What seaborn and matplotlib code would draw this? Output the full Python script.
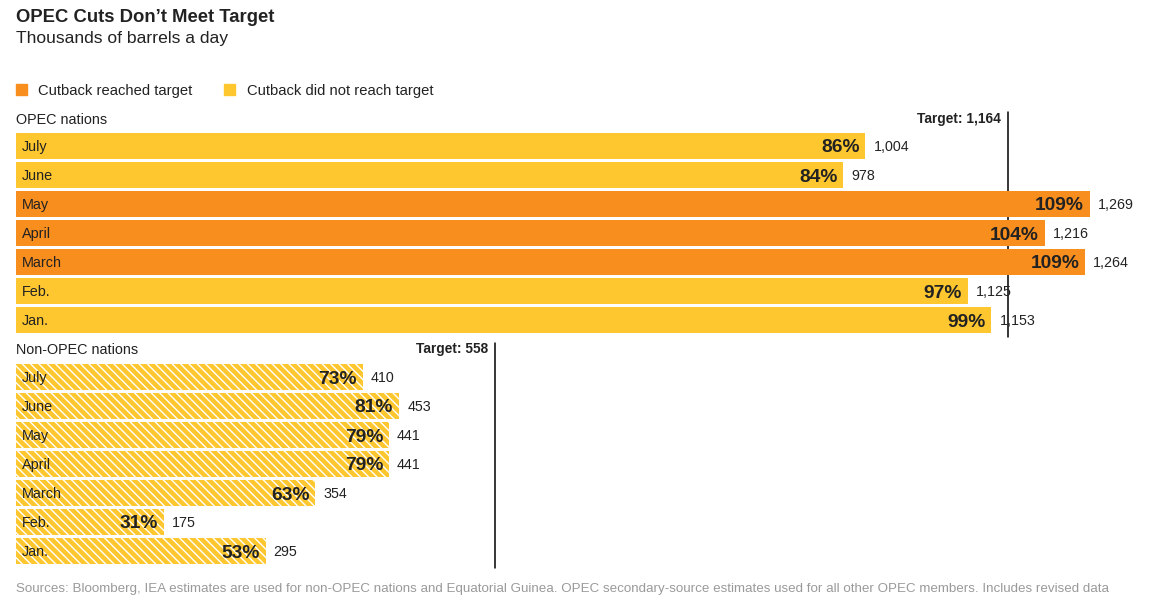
import matplotlib
matplotlib.use("Agg")
import matplotlib.pyplot as plt
import matplotlib.transforms as mtransforms
import seaborn as sns
import pandas as pd
from matplotlib.patches import Rectangle

months = ["July", "June", "May", "April", "March", "Feb.", "Jan."]
opec_values = [1004, 978, 1269, 1216, 1264, 1125, 1153]
opec_pct = [86, 84, 109, 104, 109, 97, 99]
opec_target = 1164
non_values = [410, 453, 441, 441, 354, 175, 295]
non_pct = [73, 81, 79, 79, 63, 31, 53]
non_target = 558
status_labels = ["Cutback reached target", "Cutback did not reach target"]
colors = {"Cutback reached target": "#F78E1E", "Cutback did not reach target": "#FEC72F"}

sns.set_theme(style="white")
plt.rcParams["font.family"] = ["Liberation Sans", "DejaVu Sans"]
plt.rcParams["hatch.linewidth"] = 1.0

W, H = 1151, 605
fig = plt.figure(figsize=(W / 100, H / 100), dpi=100)
TXT = "#222222"

def ax_rect(top_px, height_px, left_px=16, right_px=1151):
    return [left_px / W, 1 - (top_px + height_px) / H, (right_px - left_px) / W, height_px / H]

XMAX = (1151 - 16) / 0.846
ax1 = fig.add_axes(ax_rect(131.5, 203))
ax2 = fig.add_axes(ax_rect(362.5, 203))

def draw(ax, values, pcts, target, hatch, label):
    df = pd.DataFrame({
        "month": months,
        "value": values,
        "status": [status_labels[0] if p >= 100 else status_labels[1] for p in pcts],
    })
    sns.barplot(data=df, x="value", y="month", hue="status", palette=colors,
                dodge=False, orient="h", width=0.93, ax=ax, legend=False,
                saturation=1, linewidth=0, zorder=2)
    for p in ax.patches:
        if hatch:
            p.set_hatch("\\" * 4)
            p.set_edgecolor("white")
            p.set_linewidth(0)
    ax.set_xlim(0, XMAX)
    ax.set_ylim(6.5, -0.5)
    ax.set_axis_off()
    shift = mtransforms.ScaledTranslation(7 / 100, 0, fig.dpi_scale_trans)
    line = ax.axvline(target, ymin=-0.01, ymax=1.096, color="black", lw=1.1,
                      zorder=0, clip_on=False)
    line.set_transform(line.get_transform() + shift)
    for i, (m, v, pc) in enumerate(zip(months, values, pcts)):
        ax.annotate(m, xy=(0, i), xytext=(6, -1), textcoords="offset pixels",
                    ha="left", va="center", fontsize=10.4, color=TXT, zorder=5)
        ax.annotate(f"{pc}%", xy=(v, i), xytext=(-6, -2), textcoords="offset pixels",
                    ha="right", va="center", fontsize=13.8, fontweight="bold",
                    color=TXT, zorder=5)
        ax.annotate(f"{v:,}", xy=(v, i), xytext=(8, -1), textcoords="offset pixels",
                    ha="left", va="center", fontsize=10.3, color=TXT, zorder=5)
    ax.annotate(f"Target: {target:,}", xy=(target, -0.5), xytext=(0, 13),
                textcoords="offset pixels", ha="right", va="center",
                fontsize=9.9, fontweight="bold", color=TXT, annotation_clip=False)
    ax.annotate(label, xy=(0, -0.5), xytext=(0, 12), textcoords="offset pixels",
                ha="left", va="center", fontsize=10.4, color=TXT, annotation_clip=False)

draw(ax1, opec_values, opec_pct, opec_target, False, "OPEC nations")
draw(ax2, non_values, non_pct, non_target, True, "Non-OPEC nations")

fig.text(16 / W, 1 - 18 / H, "OPEC Cuts Don\u2019t Meet Target", ha="left", va="center",
         fontsize=13.3, fontweight="bold", color=TXT)
fig.text(16 / W, 1 - 38.5 / H, "Thousands of barrels a day", ha="left", va="center",
         fontsize=12.6, color=TXT)

# legend
for x_sq, x_txt, lab in [(16, 38, status_labels[0]), (224, 247, status_labels[1])]:
    fig.patches.append(Rectangle((x_sq / W, 1 - 95 / H), 11 / W, 11 / H,
                                 transform=fig.transFigure, color=colors[lab]))
    fig.text(x_txt / W, 1 - 91 / H, lab, ha="left", va="center", fontsize=10.6, color=TXT)

fig.text(16 / W, 1 - 589 / H,
         "Sources: Bloomberg, IEA estimates are used for non-OPEC nations and Equatorial Guinea. "
         "OPEC secondary-source estimates used for all other OPEC members. Includes revised data",
         ha="left", va="center", fontsize=9.6, color="#9a9a9a")

fig.savefig("out.png", dpi=100)
